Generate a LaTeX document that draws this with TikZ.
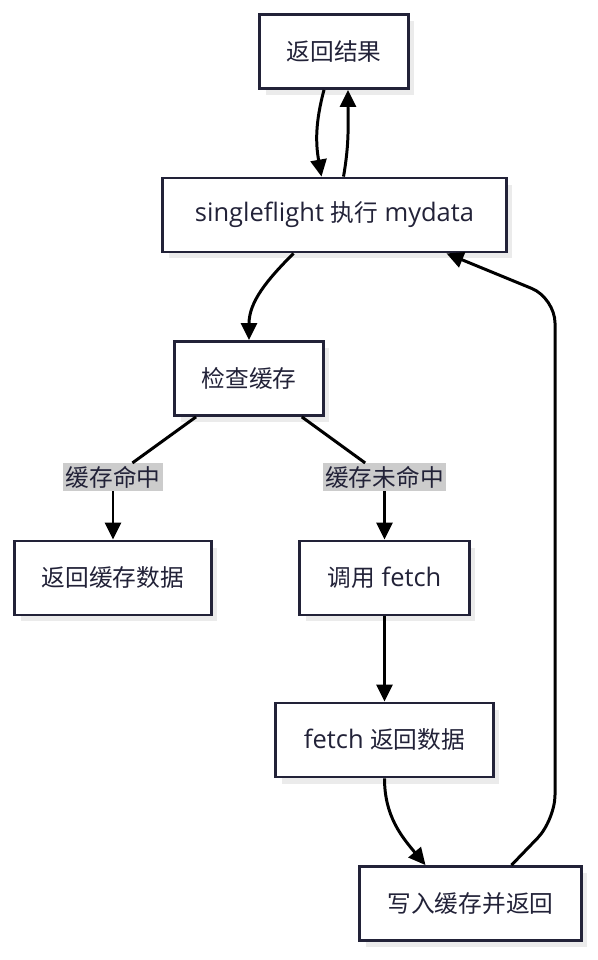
\documentclass[tikz,border=0pt]{standalone}
\usepackage{fontspec}
\setmainfont{Open Sans}
\newfontfamily\cjk[Scale=0.93]{Noto Sans CJK SC}
\usetikzlibrary{arrows.meta,shadows}
\definecolor{ink}{HTML}{222238}
\definecolor{tagbg}{HTML}{CCCCCC}

\begin{document}
\begin{tikzpicture}[x=0.02cm, y=-0.02cm,
	box/.style={shape=rectangle, draw=ink, line width=1.6pt, fill=white, text=ink,
		minimum height=1.48cm, font=\fontsize{14.5}{17}\selectfont,
		drop shadow={shadow xshift=0.12cm, shadow yshift=-0.13cm, fill=black!8, opacity=1}},
	tag/.style={fill=tagbg, text=ink, inner sep=1.5pt, font=\fontsize{14.5}{17}\selectfont\cjk},
	link/.style={line width=1.7pt, draw=black},
	arr/.style={link, -{Triangle[length=0.34cm,width=0.32cm]}}]

	\useasboundingbox (0, 0) rectangle (598, 960);

	\node[box, minimum width=2.98cm] (res)  at (334, 51.5)  {\cjk 返回结果};
	\node[box, minimum width=6.88cm] (sf)   at (334.5, 215) {singleflight {\cjk 执行} mydata};
	\node[box, minimum width=2.98cm] (chk)  at (249, 378.5) {\cjk 检查缓存};
	\node[box, minimum width=3.94cm] (hit)  at (113, 578)   {\cjk 返回缓存数据};
	\node[box, minimum width=3.40cm] (call) at (384.5, 578) {{\cjk 调用} fetch};
	\node[box, minimum width=4.36cm] (fret) at (384.5, 740) {fetch {\cjk 返回数据}};
	\node[box, minimum width=4.44cm] (wr)   at (470.5, 903.5) {\cjk 写入缓存并返回};

	\node[tag] (lhit)  at (113, 477)   {缓存命中};
	\node[tag] (lmiss) at (384.5, 477) {缓存未命中};

	\coordinate (up1) at (555, 820);
	\coordinate (up2) at (555, 298);

	\draw[arr] ([xshift=-0.2cm]res.south) to[out=-105, in=100] ([xshift=-0.26cm]sf.north);
	\draw[arr] ([xshift=0.18cm]sf.north) to[out=80, in=-90] ([xshift=0.28cm]res.south);
	\draw[arr] ([xshift=-0.82cm]sf.south) to[out=-135, in=90] (chk.north);

	\draw[link] (chk) -- (lhit);
	\draw[arr]  (lhit) -- (hit);
	\draw[link] (chk) -- (lmiss);
	\draw[arr]  (lmiss) -- (call);

	\draw[arr] (call) -- (fret);
	\draw[arr] (fret.south) to[out=-90, in=130] ([xshift=-0.9cm]wr.north);
	\draw[arr, rounded corners=0.5cm] ([xshift=0.82cm]wr.north) -- (up1) -- (up2) -- ([xshift=2.24cm]sf.south);

\end{tikzpicture}
\end{document}
